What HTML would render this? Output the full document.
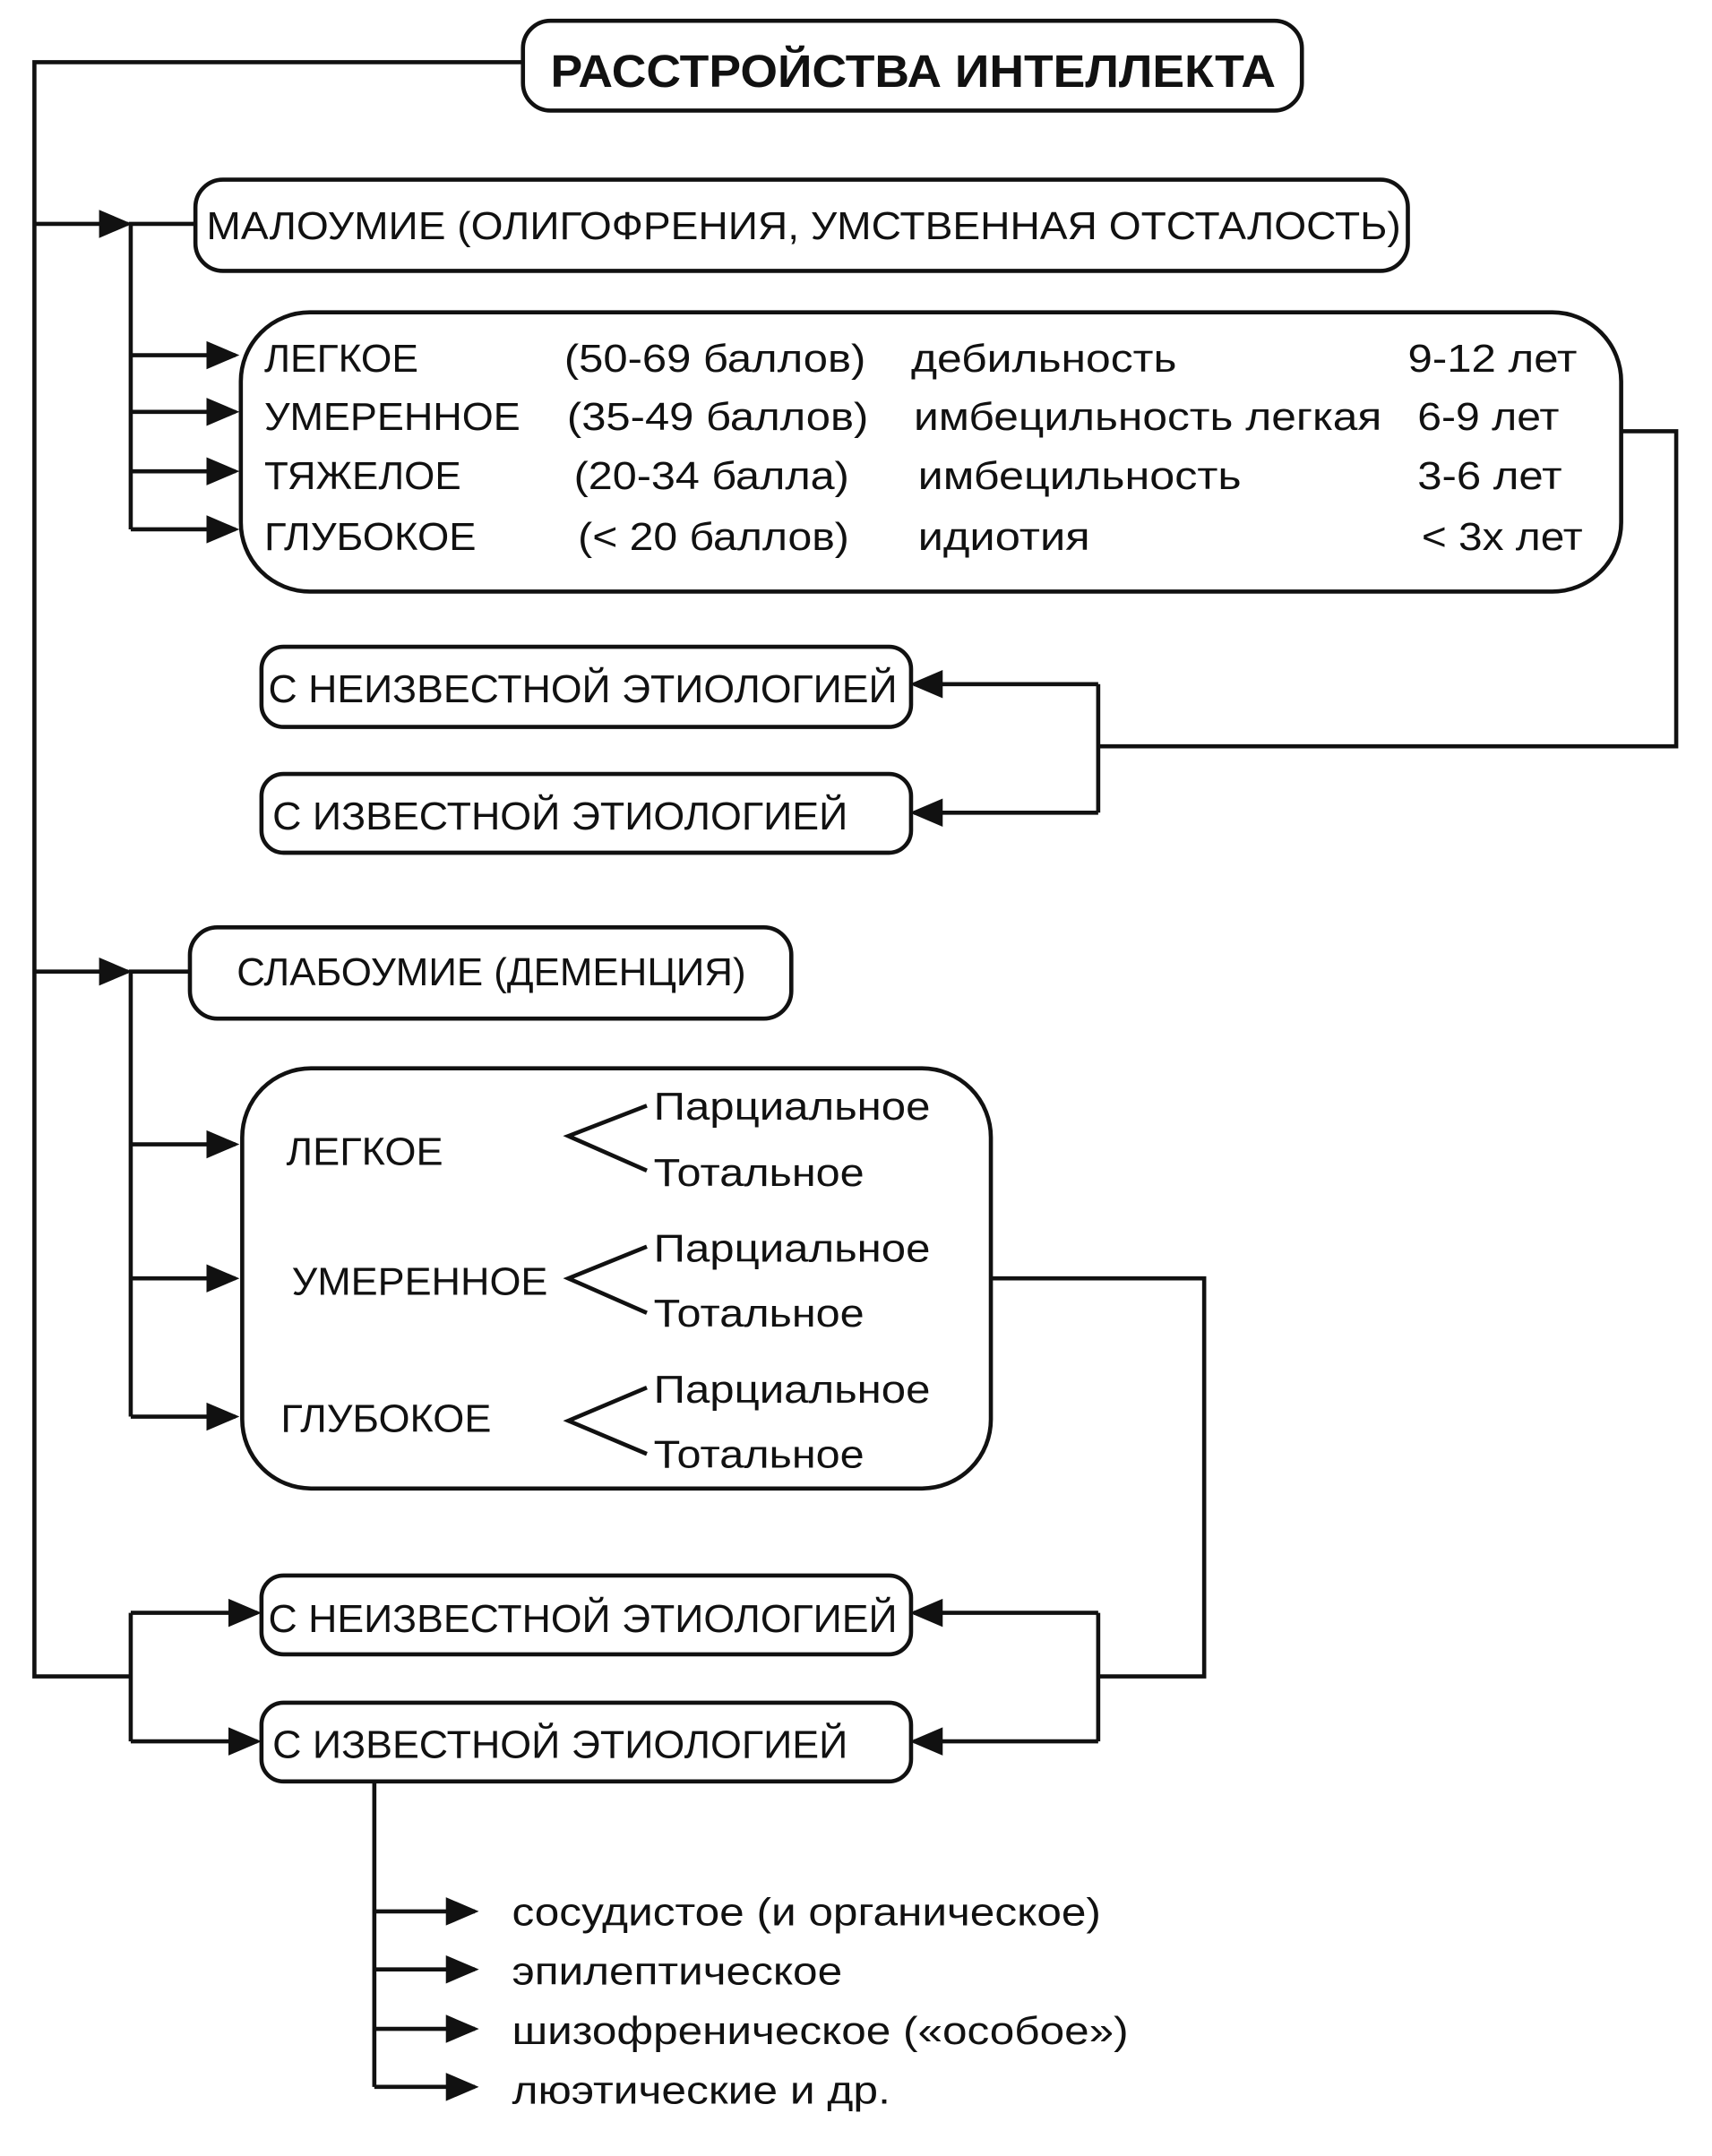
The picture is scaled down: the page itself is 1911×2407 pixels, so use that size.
<!DOCTYPE html>
<html><head><meta charset="utf-8"><style>
html,body{margin:0;padding:0;background:#fff;}
svg{display:block;}
text{font-family:"Liberation Sans","DejaVu Sans",sans-serif;font-size:28px;fill:#111;}
</style></head><body>
<svg width="1911" height="2407" viewBox="0 0 1244 1560" preserveAspectRatio="none" xmlns="http://www.w3.org/2000/svg">
<defs>
<marker id="a" markerWidth="8" markerHeight="8" refX="7" refY="4" orient="auto" markerUnits="strokeWidth">
<path d="M0,0.6 L8,4 L0,7.4 z" fill="#111"/>
</marker>
</defs>
<g fill="none" stroke="#111" stroke-width="3">
<rect x="380" y="15" width="566" height="65" rx="20"/>
<rect x="142" y="130" width="881" height="66" rx="20"/>
<rect x="175" y="226" width="1003" height="202" rx="50"/>
<rect x="190" y="468" width="472" height="58" rx="16"/>
<rect x="190" y="560" width="472" height="57" rx="16"/>
<rect x="138" y="671" width="437" height="66" rx="20"/>
<rect x="176" y="773" width="544" height="304" rx="50"/>
<rect x="190" y="1140" width="472" height="57" rx="16"/>
<rect x="190" y="1232" width="472" height="57" rx="16"/>

<polyline points="380,45 25,45 25,1213 95,1213"/>
<line x1="25" y1="162" x2="93" y2="162" marker-end="url(#a)"/>
<polyline points="142,162 95,162 95,383"/>
<line x1="95" y1="257" x2="171" y2="257" marker-end="url(#a)"/>
<line x1="95" y1="298" x2="171" y2="298" marker-end="url(#a)"/>
<line x1="95" y1="341" x2="171" y2="341" marker-end="url(#a)"/>
<line x1="95" y1="383" x2="171" y2="383" marker-end="url(#a)"/>

<polyline points="1178,312 1218,312 1218,540 798,540"/>
<line x1="798" y1="495" x2="798" y2="588"/>
<line x1="798" y1="495" x2="664" y2="495" marker-end="url(#a)"/>
<line x1="798" y1="588" x2="664" y2="588" marker-end="url(#a)"/>

<line x1="25" y1="703" x2="93" y2="703" marker-end="url(#a)"/>
<polyline points="138,703 95,703 95,1025"/>
<line x1="95" y1="828" x2="171" y2="828" marker-end="url(#a)"/>
<line x1="95" y1="925" x2="171" y2="925" marker-end="url(#a)"/>
<line x1="95" y1="1025" x2="171" y2="1025" marker-end="url(#a)"/>

<polyline points="470,800 413,822 470,847"/>
<polyline points="470,902 413,925 470,950"/>
<polyline points="470,1004 413,1028 470,1052"/>

<polyline points="720,925 875,925 875,1213 798,1213"/>
<line x1="798" y1="1167" x2="798" y2="1260"/>
<line x1="798" y1="1167" x2="664" y2="1167" marker-end="url(#a)"/>
<line x1="798" y1="1260" x2="664" y2="1260" marker-end="url(#a)"/>

<line x1="95" y1="1167" x2="95" y2="1260"/>
<line x1="95" y1="1167" x2="187" y2="1167" marker-end="url(#a)"/>
<line x1="95" y1="1260" x2="187" y2="1260" marker-end="url(#a)"/>

<line x1="272" y1="1289" x2="272" y2="1510"/>
<line x1="272" y1="1383" x2="345" y2="1383" marker-end="url(#a)"/>
<line x1="272" y1="1425" x2="345" y2="1425" marker-end="url(#a)"/>
<line x1="272" y1="1468" x2="345" y2="1468" marker-end="url(#a)"/>
<line x1="272" y1="1510" x2="345" y2="1510" marker-end="url(#a)"/>
</g>

<g lengthAdjust="spacingAndGlyphs">
<text x="400" y="63" font-weight="bold" style="font-size:33px" textLength="527" lengthAdjust="spacingAndGlyphs">РАССТРОЙСТВА ИНТЕЛЛЕКТА</text>
<text x="150" y="173" textLength="868" lengthAdjust="spacingAndGlyphs">МАЛОУМИЕ (ОЛИГОФРЕНИЯ, УМСТВЕННАЯ ОТСТАЛОСТЬ)</text>

<text x="192" y="269" textLength="112" lengthAdjust="spacingAndGlyphs">ЛЕГКОЕ</text>
<text x="192" y="311" textLength="186" lengthAdjust="spacingAndGlyphs">УМЕРЕННОЕ</text>
<text x="192" y="354" textLength="143" lengthAdjust="spacingAndGlyphs">ТЯЖЕЛОЕ</text>
<text x="192" y="398" textLength="154" lengthAdjust="spacingAndGlyphs">ГЛУБОКОЕ</text>
<text x="410" y="269" textLength="219" lengthAdjust="spacingAndGlyphs">(50-69 баллов)</text>
<text x="412" y="311" textLength="219" lengthAdjust="spacingAndGlyphs">(35-49 баллов)</text>
<text x="417" y="354" textLength="200" lengthAdjust="spacingAndGlyphs">(20-34 балла)</text>
<text x="420" y="398" textLength="197" lengthAdjust="spacingAndGlyphs">(&lt; 20 баллов)</text>
<text x="662" y="269" textLength="193" lengthAdjust="spacingAndGlyphs">дебильность</text>
<text x="664" y="311" textLength="340" lengthAdjust="spacingAndGlyphs">имбецильность легкая</text>
<text x="667" y="354" textLength="235" lengthAdjust="spacingAndGlyphs">имбецильность</text>
<text x="667" y="398" textLength="125" lengthAdjust="spacingAndGlyphs">идиотия</text>
<text x="1023" y="269" textLength="123" lengthAdjust="spacingAndGlyphs">9-12 лет</text>
<text x="1030" y="311" textLength="103" lengthAdjust="spacingAndGlyphs">6-9 лет</text>
<text x="1030" y="354" textLength="105" lengthAdjust="spacingAndGlyphs">3-6 лет</text>
<text x="1033" y="398" textLength="117" lengthAdjust="spacingAndGlyphs">&lt; 3х лет</text>

<text x="195" y="508" textLength="457" lengthAdjust="spacingAndGlyphs">С НЕИЗВЕСТНОЙ ЭТИОЛОГИЕЙ</text>
<text x="198" y="600" textLength="418" lengthAdjust="spacingAndGlyphs">С ИЗВЕСТНОЙ ЭТИОЛОГИЕЙ</text>

<text x="172" y="713" textLength="370" lengthAdjust="spacingAndGlyphs">СЛАБОУМИЕ (ДЕМЕНЦИЯ)</text>

<text x="208" y="843" textLength="114" lengthAdjust="spacingAndGlyphs">ЛЕГКОЕ</text>
<text x="212" y="937" textLength="186" lengthAdjust="spacingAndGlyphs">УМЕРЕННОЕ</text>
<text x="204" y="1036" textLength="153" lengthAdjust="spacingAndGlyphs">ГЛУБОКОЕ</text>
<text x="475" y="810" textLength="201" lengthAdjust="spacingAndGlyphs">Парциальное</text>
<text x="475" y="858" textLength="153" lengthAdjust="spacingAndGlyphs">Тотальное</text>
<text x="475" y="913" textLength="201" lengthAdjust="spacingAndGlyphs">Парциальное</text>
<text x="475" y="960" textLength="153" lengthAdjust="spacingAndGlyphs">Тотальное</text>
<text x="475" y="1015" textLength="201" lengthAdjust="spacingAndGlyphs">Парциальное</text>
<text x="475" y="1062" textLength="153" lengthAdjust="spacingAndGlyphs">Тотальное</text>

<text x="195" y="1181" textLength="457" lengthAdjust="spacingAndGlyphs">С НЕИЗВЕСТНОЙ ЭТИОЛОГИЕЙ</text>
<text x="198" y="1272" textLength="418" lengthAdjust="spacingAndGlyphs">С ИЗВЕСТНОЙ ЭТИОЛОГИЕЙ</text>

<text x="372" y="1393" textLength="428" lengthAdjust="spacingAndGlyphs">сосудистое (и органическое)</text>
<text x="372" y="1436" textLength="240" lengthAdjust="spacingAndGlyphs">эпилептическое</text>
<text x="372" y="1479" textLength="448" lengthAdjust="spacingAndGlyphs">шизофреническое («особое»)</text>
<text x="372" y="1522" textLength="275" lengthAdjust="spacingAndGlyphs">люэтические и др.</text>
</g>
</svg>
</body></html>
